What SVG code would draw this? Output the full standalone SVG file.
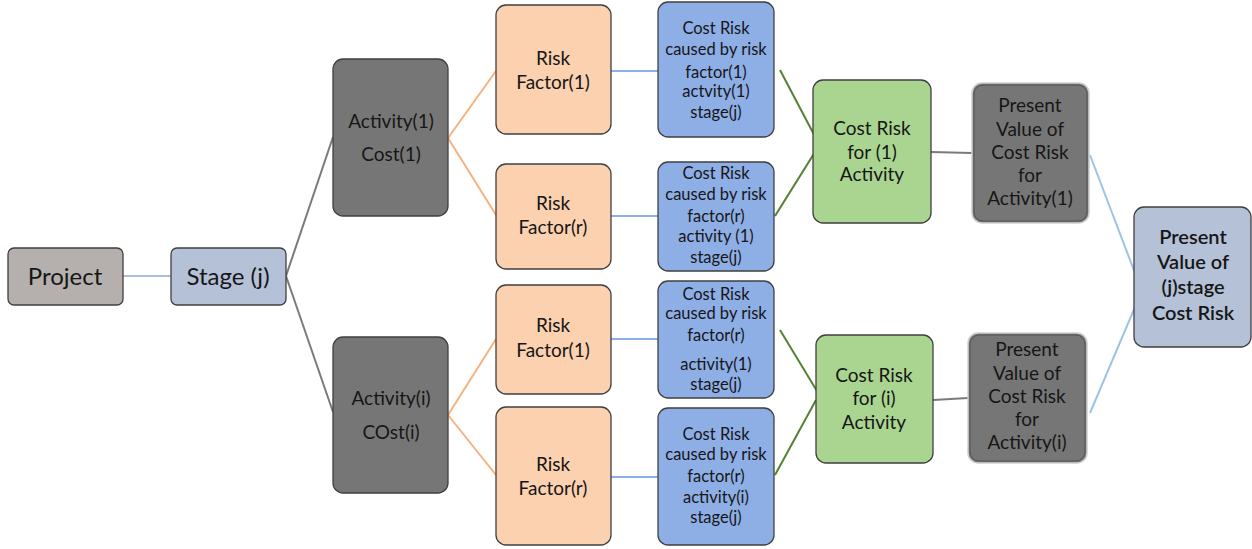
<svg xmlns="http://www.w3.org/2000/svg" width="1252" height="549" viewBox="0 0 1252 549">
<style>
text{font-family:Lato,"Open Sans","Liberation Sans",sans-serif;fill:#161616;text-anchor:middle;}
.n rect{stroke:#3f3f3f;stroke-width:1.3;}
.proj{fill:#b5b0ad;}
.stg{fill:#b5c1d6;}
.act{fill:#767676;}
.rf{fill:#fbd1b0;}
.cr{fill:#8eaee6;}
.gr{fill:#aad590;}
.pv rect{fill:#767676;stroke:#d0d0d0;stroke-width:1.5;}
.pv rect.in{fill:none;stroke:#555;stroke-width:1;}
.t22{font-size:24px;}
.t17{font-size:19px;}
.t15{font-size:16.5px;}
.t19{font-size:20px;font-weight:600;}
.c line{fill:none;stroke-width:2;}
.lb{stroke:#a9bde0;}
.gy{stroke:#7a7a7a;}
.or{stroke:#f7b27e;}
.bl{stroke:#8eb0ea;}
.gn{stroke:#548235;}
.sk{stroke:#9dc3e6;}
</style>
<g class="c" id="connectors">
<line class="lb" x1="123" y1="276" x2="171" y2="276"/>
<line class="gy" x1="286" y1="276" x2="333" y2="137"/>
<line class="gy" x1="286" y1="276" x2="333" y2="412"/>
<line class="or" x1="448" y1="138" x2="496" y2="71"/>
<line class="or" x1="448" y1="138" x2="496" y2="215"/>
<line class="or" x1="448" y1="415" x2="496" y2="339"/>
<line class="or" x1="448" y1="415" x2="496" y2="475"/>
<line class="bl" x1="611" y1="71" x2="658" y2="71"/>
<line class="bl" x1="611" y1="216" x2="658" y2="216"/>
<line class="bl" x1="611" y1="339" x2="658" y2="339"/>
<line class="bl" x1="611" y1="477" x2="658" y2="477"/>
<line class="gn" x1="780" y1="70" x2="820" y2="146"/>
<line class="gn" x1="775" y1="216" x2="815" y2="152"/>
<line class="gn" x1="780" y1="330" x2="820" y2="396"/>
<line class="gn" x1="775" y1="475" x2="816" y2="400"/>
<line class="gy" x1="931" y1="152" x2="972" y2="153"/>
<line class="gy" x1="933" y1="400" x2="968" y2="398"/>
<line class="sk" x1="1090" y1="155" x2="1135" y2="273"/>
<line class="sk" x1="1090" y1="413" x2="1138" y2="300"/>
</g>
<g class="n" id="project"><rect class="proj" x="8" y="248" width="115" height="57" rx="6"/><text class="t22" x="65" y="285">Project</text></g>
<g class="n" id="stage"><rect class="stg" x="171" y="248" width="115" height="57" rx="6"/><text class="t22" x="228" y="285">Stage (j)</text></g>
<g class="n" id="activity1"><rect class="act" x="333" y="59" width="115" height="157" rx="10"/><text class="t17" x="391" y="128">Activity(1)</text><text class="t17" x="391" y="161">Cost(1)</text></g>
<g class="n" id="activityi"><rect class="act" x="333" y="337" width="115" height="156" rx="10"/><text class="t17" x="391" y="405">Activity(i)</text><text class="t17" x="391" y="439">COst(i)</text></g>
<g class="n" id="rf1a"><rect class="rf" x="496" y="5" width="115" height="129" rx="10"/><text class="t17" x="553" y="65">Risk</text><text class="t17" x="553" y="89">Factor(1)</text></g>
<g class="n" id="rfra"><rect class="rf" x="496" y="164" width="115" height="105" rx="10"/><text class="t17" x="553" y="210">Risk</text><text class="t17" x="553" y="234">Factor(r)</text></g>
<g class="n" id="rf1b"><rect class="rf" x="496" y="285" width="115" height="109" rx="10"/><text class="t17" x="553" y="332">Risk</text><text class="t17" x="553" y="357">Factor(1)</text></g>
<g class="n" id="rfrb"><rect class="rf" x="496" y="407" width="115" height="138" rx="10"/><text class="t17" x="553" y="471">Risk</text><text class="t17" x="553" y="495">Factor(r)</text></g>
<g class="n" id="cr1"><rect class="cr" x="658" y="2" width="116" height="135" rx="10"/><text class="t15" x="716" y="34">Cost Risk</text><text class="t15" x="716" y="55">caused by risk</text><text class="t15" x="716" y="78">factor(1)</text><text class="t15" x="716" y="97">actvity(1)</text><text class="t15" x="716" y="118">stage(j)</text></g>
<g class="n" id="cr2"><rect class="cr" x="658" y="162" width="116" height="109" rx="10"/><text class="t15" x="716" y="179">Cost Risk</text><text class="t15" x="716" y="200">caused by risk</text><text class="t15" x="716" y="222">factor(r)</text><text class="t15" x="716" y="242">activity (1)</text><text class="t15" x="716" y="263">stage(j)</text></g>
<g class="n" id="cr3"><rect class="cr" x="658" y="281" width="116" height="117" rx="10"/><text class="t15" x="716" y="300">Cost Risk</text><text class="t15" x="716" y="319">caused by risk</text><text class="t15" x="716" y="341">factor(r)</text><text class="t15" x="716" y="370">activity(1)</text><text class="t15" x="716" y="390">stage(j)</text></g>
<g class="n" id="cr4"><rect class="cr" x="658" y="408" width="116" height="137" rx="10"/><text class="t15" x="716" y="440">Cost Risk</text><text class="t15" x="716" y="460">caused by risk</text><text class="t15" x="716" y="482">factor(r)</text><text class="t15" x="716" y="503">activity(i)</text><text class="t15" x="716" y="523">stage(j)</text></g>
<g class="n" id="g1"><rect class="gr" x="813" y="80" width="118" height="143" rx="10"/><text class="t17" x="872" y="135">Cost Risk</text><text class="t17" x="872" y="159">for (1)</text><text class="t17" x="872" y="181">Activity</text></g>
<g class="n" id="g2"><rect class="gr" x="816" y="335" width="117" height="128" rx="10"/><text class="t17" x="874" y="382">Cost Risk</text><text class="t17" x="874" y="405">for (i)</text><text class="t17" x="874" y="429">Activity</text></g>
<g class="pv" id="pv1"><rect x="972" y="83" width="117" height="140" rx="10"/><rect class="in" x="974" y="85" width="113" height="136" rx="9"/><text class="t17" x="1030" y="112">Present</text><text class="t17" x="1030" y="136">Value of</text><text class="t17" x="1030" y="159">Cost Risk</text><text class="t17" x="1030" y="182">for</text><text class="t17" x="1030" y="205">Activity(1)</text></g>
<g class="pv" id="pvi"><rect x="968" y="333" width="119" height="130" rx="10"/><rect class="in" x="970" y="335" width="115" height="126" rx="9"/><text class="t17" x="1027" y="356">Present</text><text class="t17" x="1027" y="380">Value of</text><text class="t17" x="1027" y="403">Cost Risk</text><text class="t17" x="1027" y="426">for</text><text class="t17" x="1027" y="449">Activity(i)</text></g>
<g class="n" id="final"><rect class="stg" x="1134" y="207" width="117" height="140" rx="10"/><text class="t19" x="1193" y="244">Present</text><text class="t19" x="1193" y="269">Value of</text><text class="t19" x="1193" y="294">(j)stage</text><text class="t19" x="1193" y="320">Cost Risk</text></g>
</svg>
